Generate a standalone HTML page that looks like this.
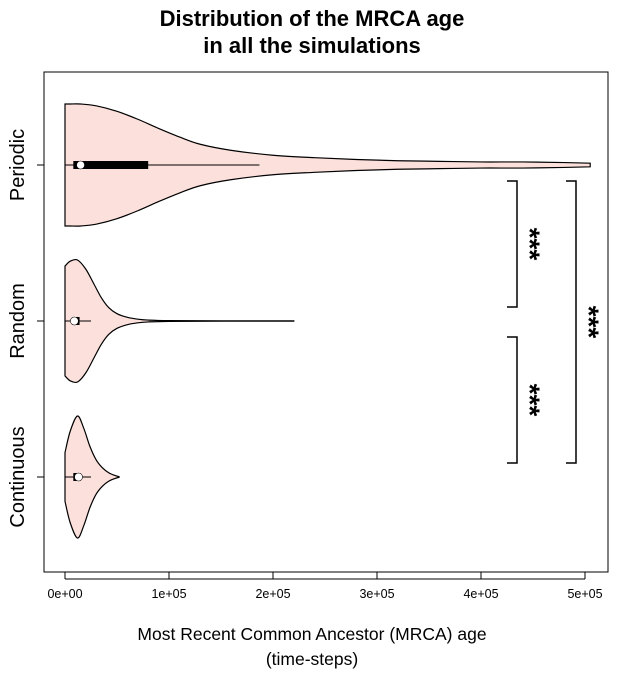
<!DOCTYPE html>
<html><head><meta charset="utf-8"><style>
body{margin:0;background:#fff}
svg{display:block;font-family:"Liberation Sans",sans-serif}
</style></head><body>
<svg id="chart" width="625" height="673">
<text x="312" y="26" text-anchor="middle" font-size="22" font-weight="bold">Distribution of the MRCA age</text>
<text x="312" y="53" text-anchor="middle" font-size="22" font-weight="bold">in all the simulations</text>
<rect x="44" y="72" width="564" height="500" fill="none" stroke="#000" stroke-width="1"/>
<text x="312" y="640" text-anchor="middle" font-size="17.5">Most Recent Common Ancestor (MRCA) age</text>
<text x="312" y="665" text-anchor="middle" font-size="17.5">(time-steps)</text>
<g id="marks"></g>
</svg>
<script>
const categories = ["Periodic","Random","Continuous"];
const xTicks = [0,100000,200000,300000,400000,500000];
const xTickLabels = ["0e+00","1e+05","2e+05","3e+05","4e+05","5e+05"];
// violin outlines: value positions and relative density (half-width, 1 = max)
const periodicVals = [0,5000,15000,30000,50000,70000,90000,110000,130000,160000,200000,240000,280000,320000,360000,400000,440000,480000,505000];
const periodicDens = [1,1,1,0.97,0.88,0.75,0.6,0.46,0.34,0.24,0.16,0.12,0.09,0.07,0.06,0.05,0.05,0.04,0.03];
const randomVals = [0,5000,12000,20000,28000,35000,42000,50000,60000,70000,80000,100000,150000,220000];
const randomDens = [0.9,0.98,1,0.85,0.6,0.38,0.22,0.12,0.06,0.03,0.015,0.006,0.003,0.002];
const contVals = [0,5000,12000,18000,24000,30000,36000,42000,48000,52000];
const contDens = [0.4,0.75,1,0.8,0.5,0.28,0.15,0.07,0.025,0.005];
const q1 = [8000,7000,8000];
const median = [15000,9000,13000];
const q3 = [80000,14000,15000];
const whiskerHi = [187000,25000,25000];
const sigLabels = ["***","***","***"];

const svg = document.getElementById('chart');
const g = document.getElementById('marks');
const NS = "http://www.w3.org/2000/svg";
const xScale = v => 65 + v * 520 / 500000;
const yScale = i => 165 + i * 156;
const halfMax = 61;
function mk(tag, attrs, parent){const e=document.createElementNS(NS,tag);for(const k in attrs)e.setAttribute(k,attrs[k]);(parent||g).appendChild(e);return e;}

xTicks.forEach((t,i)=>{
  const l=mk('line',{x1:xScale(t),x2:xScale(t),y1:572,y2:579,stroke:'#000'});
  
  
  const tx=mk('text',{x:xScale(t),y:598,'text-anchor':'middle','font-size':12.5});
  tx.textContent=xTickLabels[i];
  
  
});
const ax=mk('line',{x1:xScale(0),x2:xScale(500000),y1:579,y2:579,stroke:'#000'});


categories.forEach((c,i)=>{
  const y=yScale(i);
  const l=mk('line',{x1:37,x2:44,y1:y,y2:y,stroke:'#000'});
  
  
  const t=mk('text',{x:24,y:y,'text-anchor':'middle','font-size':20,transform:`rotate(-90 24 ${y})`});
  t.textContent=c;
  
  
});

const series=[[periodicVals,periodicDens],[randomVals,randomDens],[contVals,contDens]];
series.forEach(([vals,dens],i)=>{
  const y=yScale(i);
  const top=vals.map((v,j)=>[xScale(v),y-dens[j]*halfMax]);
  const bot=vals.map((v,j)=>[xScale(v),y+dens[j]*halfMax]).reverse();
  function smooth(pts){let d='';for(let k=0;k<pts.length-1;k++){const p0=pts[k-1]||pts[k],p1=pts[k],p2=pts[k+1],p3=pts[k+2]||p2;
    const c1=[p1[0]+(p2[0]-p0[0])/6,p1[1]+(p2[1]-p0[1])/6],c2=[p2[0]-(p3[0]-p1[0])/6,p2[1]-(p3[1]-p1[1])/6];
    d+=` C${c1[0]},${c1[1]} ${c2[0]},${c2[1]} ${p2[0]},${p2[1]}`;}return d;}
  const d=`M${top[0][0]},${top[0][1]}`+smooth(top)+` L${bot[0][0]},${bot[0][1]}`+smooth(bot)+' Z';
  const v=mk('path',{d:d,fill:'#fbe0dc',stroke:'#000','stroke-width':1.2});
  
  
  const w=mk('line',{x1:xScale(0),x2:xScale(whiskerHi[i]),y1:y,y2:y,stroke:'#000','stroke-width':1});
  
  
  const b=mk('rect',{x:xScale(q1[i]),y:y-4,width:xScale(q3[i])-xScale(q1[i]),height:8,fill:'#000'});
  
  
  const m=mk('circle',{cx:xScale(median[i]),cy:y,r:4,fill:'#fff',stroke:'#000','stroke-width':0.6});
  
  
});

const brackets=[[0,1,517,530],[1,2,517,530],[0,2,576,589]];
brackets.forEach(([a,b,x,tx],k)=>{
  const y1=(yScale(a)+16), y2=(yScale(b)-14);
  const p=mk('path',{d:`M${x-10},${y1} H${x} V${y2} H${x-10}`,fill:'none',stroke:'#000','stroke-width':1.5});
  
  
  const cy=(y1+y2)/2;
  const t=mk('text',{x:tx,y:cy,'text-anchor':'middle','font-size':28,'font-weight':'bold','dominant-baseline':'central',transform:`rotate(90 ${tx} ${cy})`});
  t.textContent=sigLabels[k];
  
  
});
</script>
</body></html>
